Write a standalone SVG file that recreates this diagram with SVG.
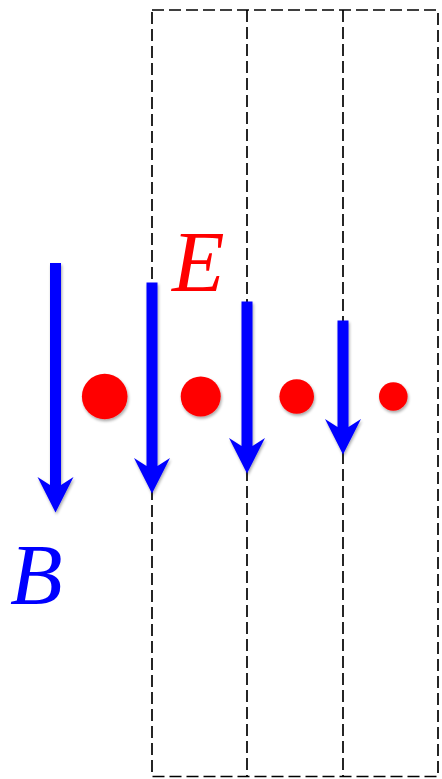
<svg xmlns="http://www.w3.org/2000/svg" width="442" height="779" viewBox="0 0 442 779">
<defs>
<style>
.dash{fill:none;stroke:#000;stroke-width:1.7;stroke-dasharray:12 5}
.arrow{fill:#0000ff;filter:url(#sh)}
.dot{fill:#ff0000;filter:url(#sh)}
.lbl{font-family:"Liberation Serif","DejaVu Serif",serif;font-style:italic;font-size:86px}
</style>
<filter id="sh" x="-50%" y="-20%" width="200%" height="150%">
<feGaussianBlur in="SourceAlpha" stdDeviation="1.5"/>
<feOffset dx="0.5" dy="2" result="b"/>
<feComponentTransfer><feFuncA type="linear" slope="0.35"/></feComponentTransfer>
<feMerge><feMergeNode/><feMergeNode in="SourceGraphic"/></feMerge>
</filter>
</defs>
<rect width="442" height="779" fill="#fff"/>
<g id="frame">
<rect class="dash" x="152" y="10" width="286" height="766.5"/>
<line class="dash" x1="247" y1="10" x2="247" y2="776.5"/>
<line class="dash" x1="343" y1="10" x2="343" y2="776.5"/>
</g>
<g id="connectors">
<path id="b1" class="arrow" d="M50 263 H61 V485 L73.5 477 L55.5 512.5 L37.5 477 L50 485 Z"/>
<path id="b2" class="arrow" d="M146.5 282.5 H157.5 V466 L170 458 L152 493.5 L134 458 L146.5 466 Z"/>
<path id="b3" class="arrow" d="M241.5 301.5 H252.5 V446 L265 438 L247 473.5 L229 438 L241.5 446 Z"/>
<path id="b4" class="arrow" d="M337.5 320.5 H348.5 V427 L361 419 L343 454.5 L325 419 L337.5 427 Z"/>
</g>
<g id="charges">
<circle class="dot" cx="104.7" cy="396.5" r="22.8"/>
<circle class="dot" cx="200.7" cy="396.5" r="20"/>
<circle class="dot" cx="296.7" cy="396.5" r="17.3"/>
<circle class="dot" cx="393.3" cy="396.5" r="14.3"/>
</g>
<g id="label-E"><text class="lbl" x="172" y="291" fill="#ff0000">E</text></g>
<g id="label-B"><text class="lbl" x="10" y="604" fill="#0000ff">B</text></g>
</svg>
